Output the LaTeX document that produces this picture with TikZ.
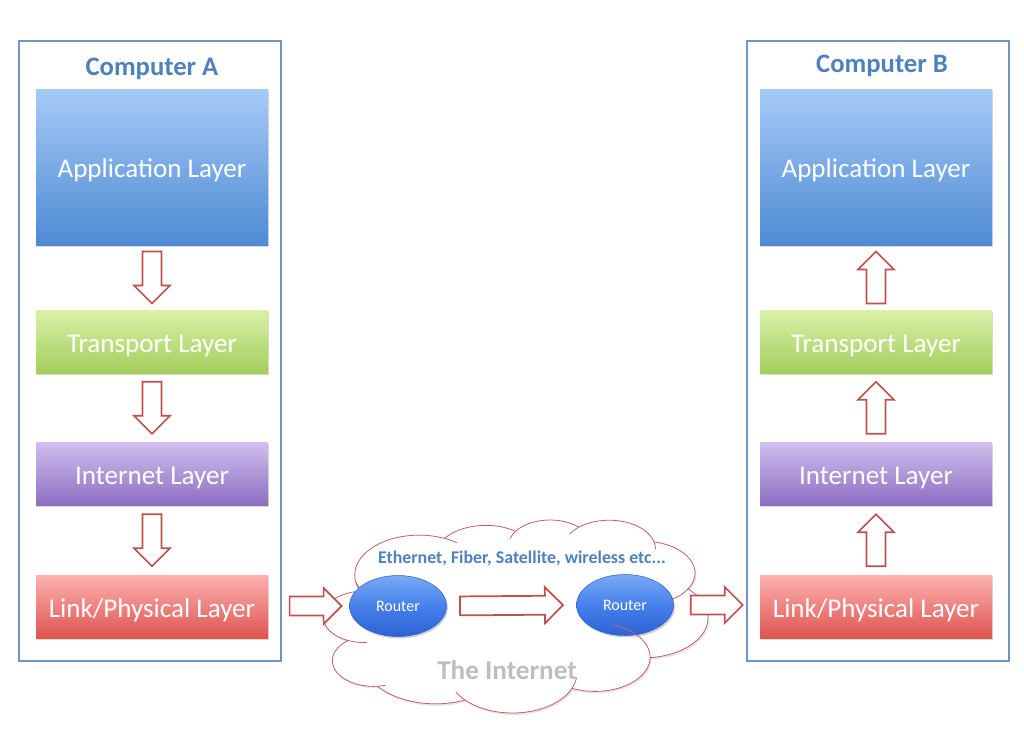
\documentclass[tikz,border=0pt]{standalone}
\usepackage{fontspec}
\setmainfont{Carlito}
\usetikzlibrary{calc,shapes.geometric,shadows}
\definecolor{frameblue}{RGB}{110,150,200}
\definecolor{labelblue}{RGB}{79,129,189}
\definecolor{arrred}{RGB}{192,80,77}
\definecolor{cloudred}{RGB}{200,95,95}
\definecolor{appTop}{RGB}{166,202,247}
\definecolor{appBot}{RGB}{78,138,212}
\definecolor{trTop}{RGB}{218,240,168}
\definecolor{trBot}{RGB}{163,206,92}
\definecolor{inTop}{RGB}{208,190,238}
\definecolor{inBot}{RGB}{140,110,192}
\definecolor{lkTop}{RGB}{252,178,176}
\definecolor{lkBot}{RGB}{222,84,80}
\definecolor{rtTop}{RGB}{120,170,246}
\definecolor{rtMid}{RGB}{70,128,234}
\definecolor{rtBot}{RGB}{45,98,212}
\definecolor{grayText}{RGB}{190,190,190}
\tikzset{
  frame/.style={rectangle, draw=frameblue, line width=1.5pt, fill=white,
    minimum width=262*0.75pt, minimum height=620*0.75pt, inner sep=0pt,
    drop shadow={opacity=0.25, shadow xshift=1pt, shadow yshift=-1pt}},
  complabel/.style={text=labelblue, font=\fontsize{20}{22}\selectfont\bfseries},
  layer/.style={rectangle, inner sep=0pt, minimum width=232*0.75pt, text=white,
    font=\fontsize{20.3}{23}\selectfont, text height=16pt, text depth=0pt,
    drop shadow={opacity=0.3, shadow xshift=0.8pt, shadow yshift=-1.2pt}},
  appbox/.style={layer, minimum height=156*0.75pt, top color=appTop, bottom color=appBot},
  trbox/.style={layer, minimum height=63*0.75pt, top color=trTop, bottom color=trBot},
  inbox/.style={layer, minimum height=63*0.75pt, top color=inTop, bottom color=inBot},
  lkbox/.style={layer, minimum height=63*0.75pt, top color=lkTop, bottom color=lkBot},
  router/.style={ellipse, draw=rtBot, line width=0.4pt, minimum width=97*0.75pt,
    minimum height=61*0.75pt, top color=rtTop, bottom color=rtBot, middle color=rtMid,
    text=white, font=\fontsize{12}{14}\selectfont,
    drop shadow={opacity=0.35, shadow xshift=1pt, shadow yshift=-1.5pt}},
  cloudline/.style={draw=cloudred, line width=0.6pt},
  cloudspace/.style={shift={(323,520)}, x=0.7149pt, y=-0.3255pt, shift={(-4.54,-0.23)}},
  barr/.style={draw=arrred, fill=white, line width=1.3pt, line join=miter,
    to path={let \p1=(\tikztostart), \p2=(\tikztotarget),
      \n1={veclen(\x2-\x1,\y2-\y1)}, \n2={(\x2-\x1)/(\n1)}, \n3={(\y2-\y1)/(\n1)},
      \n4={\n1-13.5} in
      ({\x1-7.1*(\n3)},{\y1+7.1*(\n2)})
      -- ({\x1+(\n4)*(\n2)-7.1*(\n3)},{\y1+(\n4)*(\n3)+7.1*(\n2)})
      -- ({\x1+(\n4)*(\n2)-13.5*(\n3)},{\y1+(\n4)*(\n3)+13.5*(\n2)})
      -- (\x2,\y2)
      -- ({\x1+(\n4)*(\n2)+13.5*(\n3)},{\y1+(\n4)*(\n3)-13.5*(\n2)})
      -- ({\x1+(\n4)*(\n2)+7.1*(\n3)},{\y1+(\n4)*(\n3)-7.1*(\n2)})
      -- ({\x1+7.1*(\n3)},{\y1-7.1*(\n2)}) -- cycle}}
}
\newcommand\barrow[3]{\draw[barr] ($(#1)!0.5!(#2)!#3!(#1)$) to ($(#1)!0.5!(#2)!#3!(#2)$);}
\newcommand\carc[4]{arc[x radius=#1, y radius=#2, start angle=#3, delta angle=#4]}
\newcommand\iarc[6]{({#1+#3*cos(#5)},{#2+#4*sin(#5)}) \carc{#3}{#4}{#5}{#6}}
\begin{document}
\begin{tikzpicture}[x=0.75pt,y=-0.75pt]
\useasboundingbox (0,0) rectangle (1024,736);
% Computer A
\node[frame] (frameA) at (150,351) {};
\node[complabel] (labA) at (152,69) {Computer A};
\node[appbox] (appA) at (152,167) {Application Layer};
\node[trbox] (trA) at (152,341.5) {Transport Layer};
\node[inbox] (inA) at (152,474) {Internet Layer};
\node[lkbox] (lkA) at (152,606.5) {Link/Physical Layer};
% Computer B
\node[frame] (frameB) at (878,351) {};
\node[complabel] (labB) at (882,66) {Computer B};
\node[appbox] (appB) at (876,167) {Application Layer};
\node[trbox] (trB) at (876,341.5) {Transport Layer};
\node[inbox] (inB) at (876,474) {Internet Layer};
\node[lkbox] (lkB) at (876,606.5) {Link/Physical Layer};
% Internet cloud
\begin{scope}[cloudspace]
  \draw[cloudline, fill=white, drop shadow={opacity=0.2, shadow xshift=1pt, shadow yshift=-1.5pt}]
    (39.00,143.70) \carc{67.53}{91.90}{-190.487}{123.781}
    \carc{53.33}{72.67}{-144.102}{89.945}
    \carc{43.65}{59.45}{-145.808}{99.723}
    \carc{48.57}{65.95}{-130.986}{117.242}
    \carc{53.33}{72.73}{-78.709}{109.027}
    \carc{67.75}{92.20}{-46.267}{130.269}
    \carc{57.85}{78.67}{0.625}{114.033}
    \carc{67.52}{92.15}{22.452}{115.173}
    \carc{77.20}{105.43}{66.243}{75.711}
    \carc{43.60}{59.18}{-274.942}{146.736}
    \carc{43.45}{59.45}{-246.829}{152.519} -- cycle;
  \draw[cloudline]
    \iarc{47.99}{223.24}{43.45}{59.45}{86.742}{26.430}
    \iarc{57.85}{324.40}{43.60}{59.18}{73.610}{11.447}
    \iarc{203.37}{352.76}{67.52}{92.15}{137.624}{14.081}
    \iarc{203.37}{352.76}{67.52}{92.15}{6.453}{15.998}
    \iarc{341.50}{122.31}{53.33}{72.73}{30.318}{27.752}
    \iarc{304.76}{66.65}{48.57}{65.95}{-13.744}{14.859}
    \iarc{304.76}{66.65}{48.57}{65.95}{-149.181}{18.195}
    \iarc{242.63}{59.68}{43.65}{59.45}{-163.494}{17.686}
    \iarc{105.40}{126.97}{67.53}{91.90}{-66.707}{12.319}
    \iarc{105.40}{126.97}{67.53}{91.90}{157.654}{11.858};
\end{scope}
\node[text=labelblue, font=\fontsize{13.4}{15}\selectfont\bfseries] (eth) at (522,558) {Ethernet, Fiber, Satellite, wireless etc...};
\node[text=grayText, font=\fontsize{20.4}{23}\selectfont\bfseries] (inet) at (507,670) {The Internet};
\node[router] (r1) at (398,606) {Router};
\node[router] (r2) at (625,605) {Router};
\begin{scope}[cloudspace]
  \draw[cloudline] \iarc{289.91}{316.45}{57.85}{78.67}{-70.292}{70.917};
\end{scope}
% arrows down in A
\barrow{appA.south}{trA.north}{19.5pt}
\barrow{trA.south}{inA.north}{19.5pt}
\barrow{inA.south}{lkA.north}{19.5pt}
% arrows up in B
\barrow{trB.north}{appB.south}{19.5pt}
\barrow{inB.north}{trB.south}{19.5pt}
\barrow{lkB.north}{inB.south}{19.5pt}
% horizontal arrows
\barrow{frameA.east |- r1.west}{r1.west}{19.5pt}
\barrow{r1.east}{r2.west}{38.6pt}
\barrow{r2.east}{lkB.west |- r2.east}{19.5pt}
\end{tikzpicture}
\end{document}
